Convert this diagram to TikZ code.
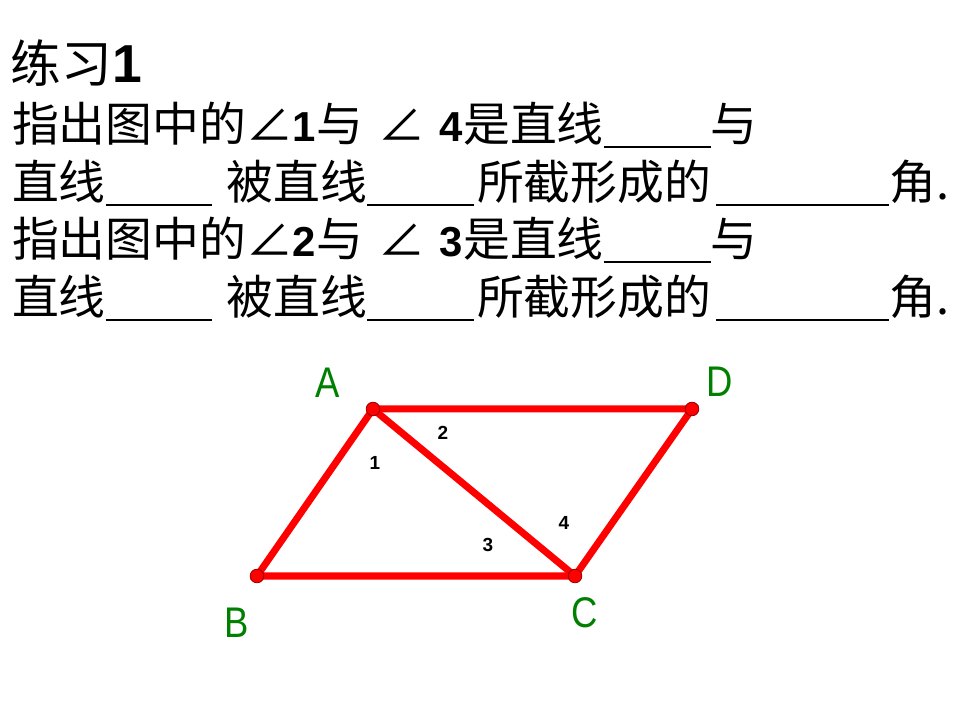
\documentclass[tikz,border=0pt]{standalone}
\usepackage{fontspec}
\setmainfont{Liberation Sans}
\newfontfamily\cjk{Noto Sans CJK SC}
\newfontfamily\lat{Liberation Sans}
\usetikzlibrary{positioning}
\definecolor{segred}{RGB}{255,0,0}
\definecolor{dotrim}{RGB}{150,0,0}
\definecolor{labgreen}{RGB}{0,128,0}
\newlength\pxu
\setlength\pxu{0.025cm}
\newcommand\blank[1]{\rule[-4.6pt]{#1\pxu}{2.1pt}}
\newcommand\num[1]{{\lat\bfseries\fontsize{29.8}{36}\selectfont #1}}
\tikzset{
	every node/.style={inner sep=0pt,outer sep=0pt},
	txtline/.style={anchor=base west,font=\cjk\fontsize{33.3}{40}\selectfont},
	side/.style={segred,line width=0.175cm,line cap=round},
	pt/.style={circle,fill=segred,draw=dotrim,line width=0.6pt,minimum size=0.34cm},
	vertex/.style={labgreen,font=\lat\fontsize{30.5}{36}\selectfont},
	anglab/.style={font=\lat\bfseries\fontsize{13.5}{16}\selectfont},
}

\begin{document}
\begin{tikzpicture}[x=0.025cm,y=-0.025cm]
	\useasboundingbox (0,0) rectangle (960,720);

	%exercise text.....................
	\node [txtline,font=\cjk\fontsize{36}{42}\selectfont] (title) at (11,83) {练习{\lat\bfseries\fontsize{38}{42}\selectfont 1}};
	\node [txtline] (q1a) at (12,142) {指出图中的∠\num{1}与\hspace{15\pxu}∠\hspace{15\pxu}\num{4}是直线\blank{107}与};
	\node [txtline] (q1b) at (12,200) {直线\blank{106}\hspace{15\pxu}被直线\blank{107}\hspace{3\pxu}所截形成的\hspace{5\pxu}\blank{173}角.};
	\node [txtline] (q2a) at (12,257) {指出图中的∠\num{2}与\hspace{15\pxu}∠\hspace{15\pxu}\num{3}是直线\blank{107}与};
	\node [txtline] (q2b) at (12,315) {直线\blank{106}\hspace{15\pxu}被直线\blank{107}\hspace{3\pxu}所截形成的\hspace{5\pxu}\blank{173}角.};

	%parallelogram corners.....................
	\coordinate (A) at (373,409);
	\coordinate (D) at (692,409);
	\coordinate (B) at (257,576);
	\coordinate (C) at (575,576);

	%sides and diagonal......................
	\draw [side] (B) -- (A) -- (D) -- (C) -- cycle;
	\draw [side] (A) -- (C);

	%corner points.......................
	\node [pt] (pA) at (A) {};
	\node [pt] (pD) at (D) {};
	\node [pt] (pB) at (B) {};
	\node [pt] (pC) at (C) {};

	%corner labels..............................
	\node [vertex] (labA) at (328,383) {\scalebox{0.85}[1]{A}};
	\node [vertex] (labD) at (720,382) {\scalebox{0.85}[1]{D}};
	\node [vertex] (labB) at (237,623) {\scalebox{0.85}[1]{B}};
	\node [vertex] (labC) at (585,613) {\scalebox{0.85}[1]{C}};

	%angle labels..............................
	\node [anglab] (ang1) at (375,463) {1};
	\node [anglab] (ang2) at (443,433) {2};
	\node [anglab] (ang3) at (488,545) {3};
	\node [anglab] (ang4) at (564,523) {4};
\end{tikzpicture}
\end{document}
